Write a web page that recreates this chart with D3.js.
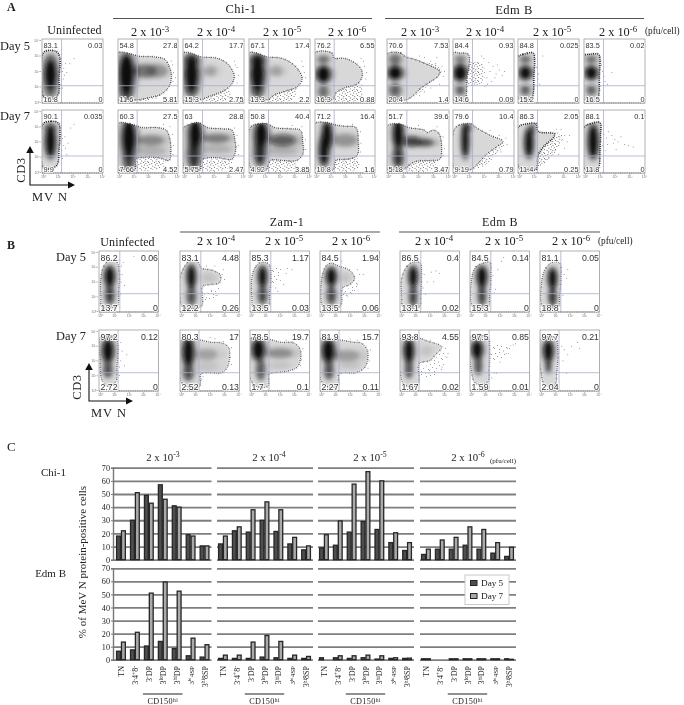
<!DOCTYPE html>
<html lang="en">
<head>
<meta charset="utf-8">
<script src="https://d3js.org/d3.v7.min.js"></script>
<style type="text/css">
body { margin: 0; background: white; }
svg { display: block; filter: blur(0.35px); }
.serif { font-family: "Liberation Serif", serif; fill: #222; }
.sans { font-family: "Liberation Sans", sans-serif; fill: #333; }
</style>
</head>
<body>
<div id="chart"></div>
<script type="text/javascript">

// ---- panel A: gated percentages, outlines etc in percent of the plot, row by row
var aPercents = [
  ["83.1","0.03","16.8","0"], ["54.8","27.8","11.6","5.81"], ["64.2","17.7","15.3","2.75"], ["67.1","17.4","13.3","2.2"], ["76.2","6.55","16.3","0.88"],
  ["70.6","7.53","20.4","1.4"], ["84.4","0.93","14.6","0.09"], ["84.8","0.025","15.2","0"], ["83.5","0.02","16.5","0"],
  ["90.1","0.035","9.9","0"], ["60.3","27.5","7.66","4.52"], ["63","28.8","5.75","2.47"], ["50.8","40.4","4.92","3.85"], ["71.2","16.4","10.8","1.6"],
  ["51.7","39.6","5.18","3.47"], ["79.6","10.4","9.19","0.79"], ["86.3","2.05","11.4","0.25"], ["88.1","0.1","11.8","0"]
];
var aOutlines = [
  [[2,78],[10,82],[24,80],[29,72],[28,40],[27,15],[20,7],[5,7],[2,10]],
  [[0,78],[15,78],[35,73],[60,72],[78,68],[86,55],[89,42],[85,26],[72,14],[50,8],[32,5],[15,5],[0,5]],
  [[0,78],[12,78],[30,72],[55,70],[72,62],[80,52],[84,42],[80,30],[68,20],[45,11],[30,6],[15,5],[0,5]],
  [[0,78],[12,78],[30,72],[52,70],[70,62],[82,50],[87,38],[80,26],[65,20],[42,13],[32,6],[15,5],[0,5]],
  [[0,78],[28,78],[32,70],[45,70],[55,68],[70,60],[78,50],[78,40],[70,30],[50,24],[35,16],[30,6],[15,5],[0,5]],
  [[0,76],[22,78],[30,72],[45,68],[70,58],[85,50],[82,42],[68,32],[55,24],[40,10],[30,5],[10,5],[0,5]],
  [[0,78],[10,78],[25,76],[26,55],[23,40],[22,15],[20,5],[8,5],[0,5]],
  [[0,72],[8,76],[25,78],[27,70],[26,40],[25,15],[22,6],[8,6],[0,8]],
  [[0,74],[8,76],[24,76],[26,70],[25,40],[24,12],[20,5],[5,5],[0,8]],
  [[2,78],[15,82],[26,80],[29,74],[28,40],[24,12],[8,6],[2,8]],
  [[0,78],[20,78],[40,72],[65,72],[80,68],[86,55],[88,35],[85,20],[70,24],[45,25],[30,22],[28,5],[10,5],[0,5]],
  [[0,70],[8,76],[25,80],[40,72],[65,70],[80,68],[85,52],[86,35],[80,22],[60,24],[40,24],[30,20],[28,5],[8,5],[2,8]],
  [[2,72],[15,78],[30,78],[42,72],[68,70],[84,68],[88,50],[88,30],[78,20],[55,20],[35,20],[28,5],[8,5],[2,10]],
  [[0,78],[20,80],[35,76],[50,74],[68,72],[72,50],[70,28],[55,22],[35,20],[30,5],[8,5],[0,8]],
  [[0,74],[20,78],[35,72],[60,68],[65,64],[75,68],[84,62],[88,40],[85,22],[70,20],[45,18],[30,8],[25,5],[5,5],[0,6]],
  [[2,68],[10,76],[30,78],[38,72],[60,60],[82,50],[72,42],[55,30],[38,12],[30,6],[15,5],[2,8]],
  [[0,72],[15,78],[30,78],[33,66],[60,62],[58,56],[42,42],[33,28],[30,6],[15,5],[2,8]],
  [[0,72],[10,78],[26,80],[27,60],[26,30],[25,12],[22,5],[5,5],[0,8]]
];
var aBlobs = [
  [[14,45,9,20,1],[14,22,8,12,.5],[14,66,8,10,.4]],
  [[14,45,11,30,1],[45,50,20,10,.35],[65,50,18,10,.2],[14,15,8,10,.5]],
  [[14,45,10,25,.95],[14,68,10,8,.6],[14,20,8,10,.5],[45,50,10,8,.2]],
  [[14,45,10,25,.95],[14,68,10,8,.7],[14,18,8,10,.5],[45,50,10,8,.2]],
  [[14,45,10,12,1],[14,68,9,6,.4],[14,18,8,10,.4]],
  [[13,47,10,10,1],[13,68,9,8,.4],[13,20,8,10,.5]],
  [[12,47,10,12,.95],[12,68,8,6,.35],[12,20,7,8,.45]],
  [[12,47,9,10,.95],[12,68,8,6,.4],[12,20,7,8,.45]],
  [[12,47,9,10,.95],[12,68,8,6,.4],[12,20,7,8,.45]],
  [[14,50,7,24,1],[14,72,9,5,.4]],
  [[18,55,10,28,1],[18,20,8,14,.6],[55,52,22,8,.3],[55,35,25,8,.15]],
  [[20,62,9,20,1],[18,30,9,22,.7],[55,55,22,7,.35],[55,38,25,7,.15]],
  [[20,62,9,18,1],[18,35,8,22,.75],[55,52,22,9,.5],[55,35,25,7,.15]],
  [[20,60,7,20,1],[15,35,7,22,.9],[50,52,20,10,.25]],
  [[18,62,7,22,1],[18,25,7,15,.7],[40,50,14,8,.6],[62,48,14,6,.45]],
  [[20,52,5,26,.95],[24,72,6,6,.4]],
  [[18,48,6,22,.95],[24,70,4,8,.4]],
  [[15,50,7,25,1]]
];
var aDense = [
  [], [[[32,4],[60,6],[75,13],[50,9],[35,8]]], [[[30,4],[75,6],[78,20],[50,14]]], [[[30,4],[72,6],[78,22],[50,18]]], [[[32,4],[75,6],[78,30],[60,28],[40,18]]],
  [[[40,8],[58,20],[75,36],[85,42],[88,52],[70,48],[58,30],[45,12]], [[32,68],[60,64],[85,56],[85,50],[55,62]]],
  [[[26,28],[48,32],[52,50],[48,62],[27,62]]], [], [],
  [], [[[30,20],[72,22],[80,12],[60,5],[30,5]]], [[[30,18],[80,18],[72,6],[30,5]]], [[[30,18],[78,16],[75,6],[30,5]]], [[[32,16],[70,24],[72,6],[35,5]]],
  [[[28,14],[78,18],[72,5],[30,5]]], [[[38,12],[55,28],[75,44],[85,46],[70,30],[55,14],[42,8]]],
  [[[33,26],[42,40],[58,54],[72,62],[68,42],[50,22],[34,10]]], []
];
var aScatter = [
  [[32,60],[35,55],[38,62],[33,50],[36,44],[34,38],[31,30],[40,48],[45,62],[52,70],[33,24]],
  [[90,60],[92,48],[95,40],[88,66],[91,34]], [[84,66],[88,56],[90,44],[88,32],[85,60]], [[90,48],[92,40],[88,58],[86,66]], [[82,58],[85,48],[84,38],[80,66],[76,70]],
  [[70,66],[78,62],[88,58],[92,50],[60,72],[52,74],[80,72],[90,42],[84,30],[70,24],[60,18],[52,12]],
  [[55,40],[60,50],[65,58],[70,46],[75,52],[58,64],[62,34],[68,40],[80,44],[52,26],[56,30],[72,60],[84,50],[50,70],[46,74]],
  [[33,46],[32,38],[40,74],[35,30],[30,56]], [[30,50],[32,42],[34,34],[38,30],[28,60],[45,48]],
  [[31,60],[33,55],[30,48],[35,44],[32,36],[31,30],[37,58],[38,40],[42,48],[46,72],[52,78],[40,30],[33,24]],
  [[90,62],[92,44],[91,30],[86,74],[75,78]], [[88,60],[90,44],[90,30],[84,72]], [[92,54],[92,38],[86,74],[70,76]], [[75,66],[76,48],[75,34],[62,78]],
  [[90,58],[92,40],[90,28],[80,74],[50,76]], [[86,56],[88,46],[75,60],[60,68],[78,34],[62,22],[48,14]],
  [[64,64],[68,58],[72,54],[76,60],[80,50],[62,70],[70,70],[76,40],[60,36],[50,24],[44,22],[66,30],[84,60]],
  [[32,62],[36,56],[40,66],[45,60],[50,54],[55,50],[60,58],[66,46],[72,44],[80,42],[30,44],[34,36],[48,48],[38,46],[52,38]]
];

// ---- panel B
var bPercents = [
  ["86.2","0.06","13.7","0"], ["83.1","4.48","12.2","0.26"], ["85.3","1.17","13.5","0.03"], ["84.5","1.94","13.5","0.06"],
  ["86.5","0.4","13.1","0.02"], ["84.5","0.14","15.3","0"], ["81.1","0.05","18.8","0"],
  ["97.2","0.12","2.72","0"], ["80.3","17","2.52","0.13"], ["78.5","19.7","1.7","0.1"], ["81.9","15.7","2.27","0.11"],
  ["93.8","4.55","1.67","0.02"], ["97.5","0.85","1.59","0.01"], ["97.7","0.21","2.04","0"]
];
var bOutlines = [
  [[3,55],[8,75],[18,85],[30,82],[34,65],[33,35],[30,10],[5,8],[3,25]],
  [[0,55],[8,75],[18,85],[30,82],[36,72],[55,68],[68,60],[66,48],[50,45],[38,42],[36,10],[5,8],[0,25]],
  [[3,55],[10,75],[20,82],[32,78],[35,60],[33,30],[30,8],[6,8],[3,25]],
  [[3,55],[10,75],[18,80],[32,75],[50,68],[58,55],[50,45],[38,40],[34,10],[6,8]],
  [[3,55],[12,75],[22,82],[34,80],[36,60],[35,30],[32,8],[5,8],[3,25]],
  [[3,55],[10,74],[22,80],[33,82],[35,60],[33,28],[30,8],[5,8]],
  [[3,50],[10,72],[22,82],[33,80],[35,55],[33,28],[30,8],[5,8]],
  [[3,88],[28,88],[32,70],[30,40],[28,15],[15,8],[5,18],[2,50]],
  [[0,82],[30,84],[50,80],[72,78],[82,70],[80,40],[70,30],[50,30],[35,28],[33,8],[10,8],[0,20]],
  [[0,85],[30,85],[50,80],[75,78],[85,65],[80,40],[60,32],[40,30],[32,28],[30,8],[10,8],[0,22]],
  [[0,85],[30,84],[55,80],[70,78],[80,65],[76,40],[60,30],[40,30],[32,28],[30,8],[10,8],[0,22]],
  [[0,85],[30,87],[45,82],[70,72],[60,60],[50,50],[40,48],[32,45],[30,10],[8,10],[0,30]],
  [[0,88],[30,88],[33,70],[32,35],[30,15],[10,12],[2,35]],
  [[0,85],[25,88],[30,70],[28,30],[25,10],[8,10],[2,30]]
];
var bBlobs = [
  [[18,58,7,16,1],[18,28,6,14,.7]],
  [[19,58,6,18,1],[19,26,6,14,.6],[48,56,12,8,.08]],
  [[21,58,6,16,1],[21,28,6,14,.65]],
  [[19,58,7,14,1],[19,28,6,14,.65],[42,56,8,8,.08]],
  [[22,58,6,16,1],[22,26,5,16,.7]],
  [[20,58,7,16,1],[20,28,5,16,.7]],
  [[21,55,6,16,1],[21,25,5,14,.75]],
  [[15,66,8,18,1],[15,35,6,12,.6]],
  [[14,64,8,22,1],[14,30,7,12,.6],[45,60,18,9,.2],[45,40,20,8,.08]],
  [[14,68,9,16,1],[18,35,6,16,.55],[50,62,22,8,.28],[50,42,18,6,.08]],
  [[14,66,9,18,1],[15,34,6,14,.6],[45,58,22,9,.22],[50,42,18,6,.08]],
  [[15,66,7,18,1],[15,36,5,14,.6],[44,66,10,8,.08]],
  [[12,68,8,14,1],[14,42,5,14,.6]],
  [[14,66,7,16,1],[14,42,4,12,.6]]
];
var bSparse = [
  [], [[[38,20],[62,44],[66,30],[50,20]]], [[[37,44],[52,52],[52,72],[37,74]]], [[[36,28],[50,40],[64,55],[60,36],[46,24]]],
  [], [], [],
  [], [], [], [],
  [[[34,30],[60,54],[72,68],[76,40],[58,26],[40,22]]], [[[36,50],[42,76],[72,72],[55,54]]], []
];
var bScatter = [
  [[36,50],[38,62],[37,76],[42,44],[40,82],[33,86],[36,30],[58,92]],
  [[40,30],[44,24],[70,62],[74,54],[72,70],[58,76],[44,76],[60,28],[52,34]],
  [[60,64],[62,72],[56,46],[42,40],[70,70],[46,34]],
  [[36,84],[40,32],[44,28],[62,46],[66,62],[62,70],[54,36],[72,62]],
  [[40,62],[45,50],[52,66],[60,68],[66,64],[38,40],[42,30],[56,50]],
  [[38,60],[42,38],[52,84],[56,90],[40,32],[46,70]],
  [[40,62],[46,70],[38,28],[44,56]],
  [[36,80],[38,66],[36,50],[42,42],[46,60],[34,40],[34,26]],
  [[86,72],[84,56],[86,44],[58,86],[50,88],[36,20],[38,24],[72,82]],
  [[88,70],[86,52],[84,42],[60,84],[70,82]],
  [[84,68],[82,50],[80,38],[62,84],[50,86]],
  [[76,70],[78,56],[70,40],[56,76],[50,84],[80,62],[48,30]],
  [[60,62],[66,70],[72,76],[76,78],[50,48],[40,30],[36,22],[44,30]],
  [[36,74],[40,68],[46,60],[52,74],[62,80],[66,70],[44,30],[38,50]]
];

// ---- panel C: bar values
var cellTypes = ["TN", "3-4+8-", "3-DP", "3loDP", "3hiDP", "3hi4SP", "3hi8SP"];
var yTicks = [0, 10, 20, 30, 40, 50, 60, 70];
var doses = ["-3", "-4", "-5", "-6"];
var chiDay5 = [[18,30,49,57,41,19,10.5], [12,22,21,30,21.5,12,7.5], [9,11,21,29,23,13,7], [4,8,8,11,8,5,2.5]];
var chiDay7 = [[22,51,43,46,40,18,10.5], [18,25,38,44,38,17,10.5], [19,29.5,57.5,67,60,20.5,13], [8,15,17,25,23,13,9.5]];
var edmDay5 = [[6.5,7.5,10.5,14,8.5,3,2], [1,1,1,2,1.5,1,1], [1.5,1.5,1,1.5,.5,1,1], [.7,0,.7,.7,.7,.7,.7]];
var edmDay7 = [[13.5,21,51,59.5,52.5,16.5,11.5], [3.5,3.5,13.5,18.5,14,3.5,2.5], [0,3,3,3.5,3,1.5,1.2], [.7,0,.7,.7,.7,.7,.3]];

var width = 684, height = 705;
var svg = d3.select("#chart").append("svg").attr("width", width).attr("height", height);
var defs = svg.append("defs");

defs.append("filter").attr("id", "soft").attr("x", "-60%").attr("y", "-60%").attr("width", "220%").attr("height", "220%")
  .append("feGaussianBlur").attr("stdDeviation", 2);
defs.append("filter").attr("id", "softer")
  .append("feGaussianBlur").attr("stdDeviation", 0.9);

// stipple tiles for the dense dot clouds
function stippleTile(id, w, h, dots, col) {
  var p = defs.append("pattern").attr("id", id).attr("patternUnits", "userSpaceOnUse").attr("width", w).attr("height", h);
  dots.forEach(function(d) {
    p.append("rect").attr("x", d[0]).attr("y", d[1]).attr("width", 0.8).attr("height", 0.8).attr("fill", col);
  });
}
stippleTile("dense", 11, 9, [[0,0],[2.6,1],[5,0.2],[8.4,1.2],[1,2.6],[3.8,3.4],[6.4,2.2],[9.4,3.8],[0.4,5],[2.4,6.2],[5,5],[7.6,6],[1.6,7.8],[4.4,8],[9,7.6]], "#333");
stippleTile("sparse", 13, 11, [[1,1],[5,0],[10,2],[3,4],[7,5],[12,6],[0,7],[5,8],[9,9.6]], "#666");

var clipCount = 0;
var blobLine = d3.line().curve(d3.curveCatmullRomClosed.alpha(0.5));

function flowPanel(x0, y0, w, h, o) {
  var x = d3.scaleLinear().domain([0, 100]).range([x0, x0 + w]);
  var y = d3.scaleLinear().domain([0, 100]).range([y0 + h, y0]);
  var line = blobLine.x(function(d) { return x(d[0]); }).y(function(d) { return y(d[1]); });
  var g = svg.append("g");
  var id = "clip" + (clipCount++);
  defs.append("clipPath").attr("id", id).append("path").attr("d", line(o.outline));
  var frameId = "frame" + id;
  defs.append("clipPath").attr("id", frameId).append("rect").attr("x", x0).attr("y", y0).attr("width", w).attr("height", h);
  var inner = g.append("g").attr("clip-path", "url(#" + frameId + ")");

  (o.sparse || []).forEach(function(poly) {
    inner.append("path").attr("d", line(poly)).attr("fill", "url(#sparse)");
  });
  (o.dense || []).forEach(function(poly) {
    inner.append("path").attr("d", line(poly)).attr("fill", "url(#dense)");
  });
  inner.selectAll("rect.dot").data(o.scatter || []).enter().append("rect").attr("class", "dot")
    .attr("x", function(d) { return x(d[0]); }).attr("y", function(d) { return y(d[1]); })
    .attr("width", 0.8).attr("height", 0.8).attr("fill", "#666");

  inner.append("path").attr("d", line(o.outline)).attr("fill", "#d8d8d8").attr("filter", "url(#softer)");
  var dark = inner.append("g").attr("clip-path", "url(#" + id + ")").append("g").attr("filter", "url(#soft)");
  // wide pale halo first, then the core; only strong cores get doubled up to black
  [[1.9, 1.3, 0.3, 1], [1, 1, 1, 1], [1, 1, 0.8, 3]].forEach(function(pass, k) {
    dark.selectAll("ellipse.pass" + k).data(o.blobs).enter().append("ellipse")
      .attr("class", "pass" + k)
      .attr("cx", function(d) { return x(d[0]); })
      .attr("cy", function(d) { return y(d[1]); })
      .attr("rx", function(d) { return (x(d[2]) - x(0)) * pass[0]; })
      .attr("ry", function(d) { return (y(0) - y(d[3])) * pass[1]; })
      .attr("fill", "#0c0c0c")
      .attr("fill-opacity", function(d) { return Math.pow(d[4], pass[3]) * pass[2]; });
  });
  // dotted rim of the density contour
  inner.append("path").attr("d", line(o.outline)).attr("fill", "none")
    .attr("stroke", "#1a1a1a").attr("stroke-width", o.rim).attr("stroke-dasharray", "1 1.1");
  inner.append("path").attr("d", line(o.outline)).attr("fill", "none")
    .attr("stroke", "#444").attr("stroke-opacity", 0.7).attr("stroke-width", o.rim + 1.4).attr("stroke-dasharray", "0.5 3.7");

  // gates
  g.append("line").attr("x1", x(o.gateX)).attr("x2", x(o.gateX)).attr("y1", y0).attr("y2", y0 + h)
    .attr("stroke", "#a6add0").attr("stroke-width", 0.8);
  g.append("line").attr("x1", x0).attr("x2", x0 + w).attr("y1", y(o.gateY)).attr("y2", y(o.gateY))
    .attr("stroke", "#a6add0").attr("stroke-width", 0.8);
  g.append("rect").attr("x", x0).attr("y", y0).attr("width", w).attr("height", h)
    .attr("fill", "none").attr("stroke", "#a8a8a8").attr("stroke-width", 0.9);
  g.append("line").attr("x1", x0).attr("x2", x0 + w).attr("y1", y0 + h).attr("y2", y0 + h)
    .attr("stroke", "#666").attr("stroke-width", 0.8).attr("stroke-dasharray", "1.2 0.6");

  // decade ticks
  var dec = d3.scaleLinear().domain([0, 4]).range([x0 + 1, x0 + w - 1]);
  var decY = d3.scaleLinear().domain([0, 4]).range([y0 + h - 1, y0 + 1]);
  var tickFmt = function(d) { return "10" + "\u2070\u00b9\u00b2\u00b3\u2074"[d]; };
  if (o.ticksBottom) {
    g.append("g").attr("transform", "translate(0," + (y0 + h + 1) + ")")
      .call(d3.axisBottom(dec).tickValues([0, 1, 2, 3, 4]).tickSize(1.5).tickPadding(0).tickFormat(tickFmt))
      .call(tidyFlowAxis);
  }
  if (o.ticksLeft) {
    g.append("g").attr("transform", "translate(" + (x0 - 1) + ",0)")
      .call(d3.axisLeft(decY).tickValues([0, 1, 2, 3, 4]).tickSize(1.5).tickPadding(0).tickFormat(tickFmt))
      .call(tidyFlowAxis);
  }

  // quadrant percentages
  var fs = o.fontSize;
  var put = function(tx, ty, anchor, s) {
    g.append("text").attr("class", "sans").attr("x", tx).attr("y", ty).attr("text-anchor", anchor)
      .attr("font-size", fs).attr("stroke", "white").attr("stroke-width", 1.6).attr("paint-order", "stroke").text(s);
  };
  put(x0 + 1.5, y0 + fs + 1.5, "start", o.labels[0]);
  put(x0 + w - 0.5, y0 + fs + 1.5, "end", o.labels[1]);
  put(x0 + 1.5, y0 + h - 1.5, "start", o.labels[2]);
  put(x0 + w - 0.5, y0 + h - 1.5, "end", o.labels[3]);
}

function tidyFlowAxis(sel) {
  sel.select(".domain").remove();
  sel.selectAll("line").attr("stroke", "#888").attr("stroke-width", 0.6);
  sel.selectAll("text").attr("font-size", 3.6).attr("font-family", "Liberation Sans").attr("fill", "#777");
}

function text(tx, ty, s, size, anchor) {
  return svg.append("text").attr("class", "serif").attr("x", tx).attr("y", ty)
    .attr("text-anchor", anchor || "middle").attr("font-size", size).text(s);
}

// "2 x 10^-3" style heading
function doseLabel(tx, ty, exp, size) {
  var t = text(tx, ty, "2 x 10", size);
  t.append("tspan").attr("dy", -size * 0.35).attr("font-size", size * 0.72).text(exp);
  return t;
}

function rule(x1, x2, ry, w) {
  svg.append("line").attr("x1", x1).attr("x2", x2).attr("y1", ry).attr("y2", ry)
    .attr("stroke", w > 1 ? "#555" : "#222").attr("stroke-width", w);
}

function arrows(ax, ay, top, right) {
  svg.append("path").attr("d", d3.line()([[ax, top + 6], [ax, ay], [right - 6, ay]]))
    .attr("fill", "none").attr("stroke", "#111").attr("stroke-width", 1.1);
  svg.append("path").attr("d", d3.line()([[ax - 3.8, top + 7], [ax, top], [ax + 3.8, top + 7]]) + "Z").attr("fill", "#111");
  svg.append("path").attr("d", d3.line()([[right - 7, ay - 3.5], [right, ay], [right - 7, ay + 3.5]]) + "Z").attr("fill", "#111");
}

// ---- A
text(7, 11, "A", 12, "start").attr("font-weight", "bold");
text(241, 13, "Chi-1", 12.5).attr("letter-spacing", 0.5);
text(514, 14, "Edm B", 12.5).attr("letter-spacing", 0.5);
rule(113, 372, 18.5, 1.2);
rule(385, 644, 18.5, 1.2);
text(74.5, 34, "Uninfected", 12).attr("letter-spacing", 0.1);
text(0, 50, "Day 5", 12.4, "start");
text(0, 120, "Day 7", 12.4, "start");

var aX = [42, 118, 183, 249, 315, 387, 453, 518, 584];
var aW = [61, 60, 61, 61, 60, 62, 61, 61, 61];
var aY = [39, 110], aH = [64, 63];
[[150, "-3"], [216, "-4"], [282, "-5"], [347, "-6"], [420, "-3"], [485, "-4"], [552, "-5"], [618, "-6"]].forEach(function(d) {
  doseLabel(d[0], 36, d[1], 12.3);
});
text(645, 34, "(pfu/cell)", 9.3, "start");

aPercents.forEach(function(labels, i) {
  var row = i < 9 ? 0 : 1, col = i % 9;
  flowPanel(aX[col], aY[row], aW[col], aH[row], {
    labels: labels, outline: aOutlines[i], blobs: aBlobs[i], dense: aDense[i], scatter: aScatter[i],
    gateX: 32, gateY: 27, fontSize: 7.4, rim: col == 0 || col > 6 ? 1.4 : 0.8,
    ticksBottom: row == 1, ticksLeft: col == 0
  });
});
arrows(30, 185, 146, 75);
text(25, 170, "CD3", 12.5).attr("transform", "rotate(-90 25 170)").attr("letter-spacing", 0.6);
text(32, 201, "MV N", 12.5, "start").attr("letter-spacing", 1);

// ---- B
text(7, 249, "B", 12, "start").attr("font-weight", "bold");
text(287, 226, "Zam-1", 12).attr("letter-spacing", 0.5);
text(500, 226, "Edm B", 12).attr("letter-spacing", 0.5);
rule(180, 380, 232, 1.2);
rule(399, 600, 232, 1.2);
text(127.5, 246, "Uninfected", 12).attr("letter-spacing", 0.1);
text(56, 261, "Day 5", 12.4, "start");
text(56, 340, "Day 7", 12.4, "start");

var bX = [99, 180, 250, 320, 400, 470, 540];
[[216, "-4"], [284, "-5"], [351, "-6"], [434, "-4"], [504, "-5"], [571, "-6"]].forEach(function(d) {
  doseLabel(d[0], 245, d[1], 12.3);
});
text(598, 244, "(pfu/cell)", 9.3, "start");

bPercents.forEach(function(labels, i) {
  var row = i < 7 ? 0 : 1, col = i % 7;
  flowPanel(bX[col], row == 0 ? 251 : 330, 59.5, 61, {
    labels: labels, outline: bOutlines[i], blobs: bBlobs[i], sparse: bSparse[i], scatter: bScatter[i],
    gateX: row == 0 ? 35 : 32, gateY: 30, fontSize: 8.8, rim: 0.6,
    ticksBottom: true, ticksLeft: col == 0
  });
});
arrows(89, 401, 363, 133);
text(81, 387, "CD3", 12.5).attr("transform", "rotate(-90 81 387)").attr("letter-spacing", 0.6);
text(91, 417, "MV N", 12.5, "start").attr("letter-spacing", 1);

// ---- C
text(7, 451, "C", 13, "start");
text(66, 476, "Chi-1", 11, "end");
text(66, 577, "Edm B", 11, "end");
text(86, 562, "% of MeV N protein-positive cells", 11).attr("transform", "rotate(-90 86 562)");

var colX = [113, 217, 318, 420];
var colW = [98.5, 96, 96, 96];
var y1 = d3.scaleLinear().domain([0, 70]).range([559.7, 467.7]);
var y2 = d3.scaleLinear().domain([0, 70]).range([659.7, 568.3]);

function barChart(y, day5, day7, c) {
  var x = d3.scaleBand().domain(cellTypes).range([colX[c] + (c == 0 ? 1 : -1), colX[c] + colW[c]]).paddingInner(0.3).paddingOuter(0.15);
  var inner = d3.scaleBand().domain(["d5", "d7"]).range([0, x.bandwidth()]);
  var grid = svg.append("g").attr("transform", "translate(" + colX[c] + ",0)")
    .call(d3.axisLeft(y).tickValues(yTicks).tickSize(-colW[c]).tickFormat(""));
  grid.select(".domain").remove();
  grid.selectAll("line").attr("stroke", "#7e7e7e").attr("stroke-width", 1.8);
  if (c == 0) {
    var ax = svg.append("g").attr("transform", "translate(" + colX[0] + ",0)")
      .call(d3.axisLeft(y).tickValues(yTicks).tickSize(2).tickPadding(1));
    ax.select(".domain").attr("stroke", "#777").attr("stroke-width", 1.4);
    ax.selectAll("line").attr("stroke", "#777");
    ax.selectAll("text").attr("class", "serif").attr("font-size", 8.2).attr("font-family", "Liberation Serif");
  }
  var groups = svg.append("g").selectAll("g").data(cellTypes).enter().append("g")
    .attr("transform", function(d) { return "translate(" + x(d) + ",0)"; });
  [["d5", day5, "#4e4e4e"], ["d7", day7, "#aaaaaa"]].forEach(function(s) {
    groups.filter(function(d, i) { return s[1][i] > 0; }).append("rect")
      .attr("x", inner(s[0]) + 0.5)
      .attr("width", inner.bandwidth() - 1)
      .attr("y", function(d) { return y(s[1][cellTypes.indexOf(d)]); })
      .attr("height", function(d) { return y(0) - y(s[1][cellTypes.indexOf(d)]); })
      .attr("fill", s[2]).attr("stroke", "#262626").attr("stroke-width", 1.3);
  });
  return x;
}

// rotated category names with raised exponents, 3hi4SP set smaller
function typeLabel(cx, ty, name) {
  var m = name.match(/^3(hi|lo|-|\+)?(.*)$/);
  var small = name == "3hi4SP";
  var t = text(0, 0, "", small ? 7 : 8, "end").attr("transform", "translate(" + (cx + 3) + "," + ty + ") rotate(-90)");
  if (!m) { t.text(name); return; }
  t.append("tspan").text("3");
  var sz = small ? 7 : 8;
  if (name == "3-4+8-") {
    t.append("tspan").attr("dy", -2.4).attr("font-size", 5.5).text("-");
    t.append("tspan").attr("dy", 2.4).text("4");
    t.append("tspan").attr("dy", -2.4).attr("font-size", 5.5).text("+");
    t.append("tspan").attr("dy", 2.4).text("8");
    t.append("tspan").attr("dy", -2.4).attr("font-size", 5.5).text("-");
    return;
  }
  t.append("tspan").attr("dy", -2.4).attr("font-size", sz * 0.68).text(m[1]);
  t.append("tspan").attr("dy", 2.4).text(m[2]);
}

doses.forEach(function(dose, c) {
  barChart(y1, chiDay5[c], chiDay7[c], c);
  var xb = barChart(y2, edmDay5[c], edmDay7[c], c);
  cellTypes.forEach(function(name) {
    typeLabel(xb(name) + xb.bandwidth() / 2, 666, name);
  });
  var left = xb("3-DP") - 1, right = xb("3hiDP") + xb.bandwidth() + 1;
  rule(left, right, 694, 1);
  var b = text((left + right) / 2, 704, "CD150", 8.2).attr("letter-spacing", 0.4);
  b.append("tspan").attr("dy", -2.4).attr("font-size", 5.5).text("hi");
  doseLabel(colX[c] + [50, 52, 52, 48][c], 461, dose, 10.8);
});
text(490, 463, "(pfu/cell)", 7, "start");

// legend
var legend = svg.append("g");
legend.append("rect").attr("x", 465).attr("y", 575).attr("width", 44).attr("height", 29.5)
  .attr("fill", "white").attr("stroke", "#c4c4c4").attr("stroke-width", 0.9);
[["Day 5", "#4e4e4e", 583], ["Day 7", "#aaaaaa", 596]].forEach(function(d) {
  legend.append("rect").attr("x", 470.5).attr("y", d[2] - 2.5).attr("width", 6.5).attr("height", 5)
    .attr("fill", d[1]).attr("stroke", "#262626").attr("stroke-width", 1);
  text(481, d[2] + 3, d[0], 9.2, "start");
});

</script>
</body>
</html>
